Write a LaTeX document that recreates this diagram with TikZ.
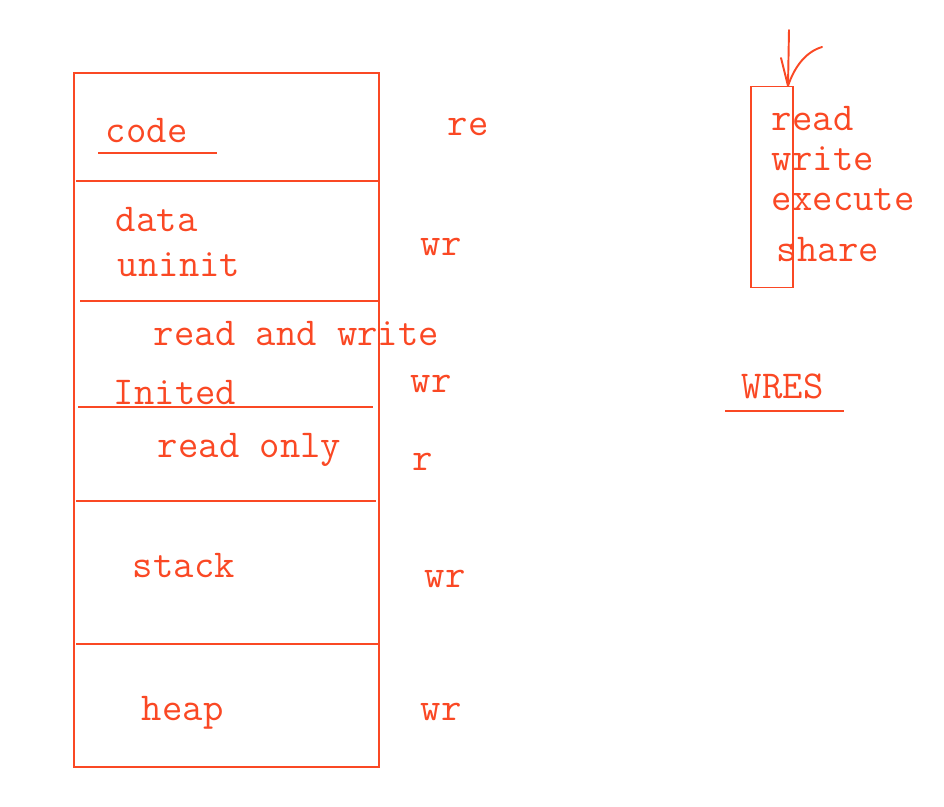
\documentclass[tikz,border=0pt]{standalone}
\definecolor{pen}{RGB}{250,72,36}
\tikzset{
  lbl/.style={text=pen, font=\fontsize{22.5}{26}\selectfont\ttfamily, inner sep=0pt},
  box/.style={draw=pen, line width=1.1pt},
}
\begin{document}
\begin{tikzpicture}[x=0.02cm, y=-0.02cm, line width=1.1pt]
  \useasboundingbox (0,0) rectangle (944,806);
  % segments
  \begin{scope}[draw=pen]
    \draw (74,73) rectangle (379,767);
    \draw (76,181) -- (378,181);
    \draw (80,301) -- (379,301);
    \draw (78,407) -- (373,407);
    \draw (76,501) -- (376,501);
    \draw (76,644) -- (378,644);
  \end{scope}
  \node[lbl, anchor=base west] (code) at (105,142) {code};
  \draw[pen] (98,153) -- (217,153);
  \node[lbl, anchor=base west] (data) at (115,231) {data};
  \node[lbl, anchor=base west] (uninit) at (117,276) {uninit};
  \node[lbl, anchor=base west] (rw) at (153,345) {read and write};
  \node[lbl, anchor=base west] (inited) at (113,404) {Inited};
  \node[lbl, anchor=base west] (ronly) at (157,457) {read only};
  \node[lbl, anchor=base west] (stack) at (132,577) {stack};
  \node[lbl, anchor=base west] (heap) at (141,720) {heap};
  % rights
  \node[lbl, anchor=base west] (p0) at (447,135) {re};
  \node[lbl, anchor=base west] (p1) at (420,255) {wr};
  \node[lbl, anchor=base west] (p2) at (410,392) {wr};
  \node[lbl, anchor=base west] (p3) at (412,470) {r};
  \node[lbl, anchor=base west] (p4) at (424,587) {wr};
  \node[lbl, anchor=base west] (p5) at (420,720) {wr};
  % flags
  \node[box, minimum width=0.84cm, minimum height=4.02cm, inner sep=0pt] (flags) at (772,187) {};
  \node[lbl, anchor=base west] (f0) at (771,130) {read};
  \node[lbl, anchor=base west] (f1) at (771,170) {write};
  \node[lbl, anchor=base west] (f2) at (771,210) {execute};
  \node[lbl, anchor=base west] (f3) at (776,261) {share};
  \coordinate (tip) at (788,86);
  \draw[pen, line cap=round] (789,30) -- (tip);
  \draw[pen, line cap=round] (781,58) -- (tip);
  \draw[pen, line cap=round] (822,47) .. controls (805,52) and (794,68) .. (tip);
  \node[lbl, anchor=base west] (wres) at (741,398) {WRES};
  \draw[pen] (725,411) -- (844,411);
\end{tikzpicture}
\end{document}
